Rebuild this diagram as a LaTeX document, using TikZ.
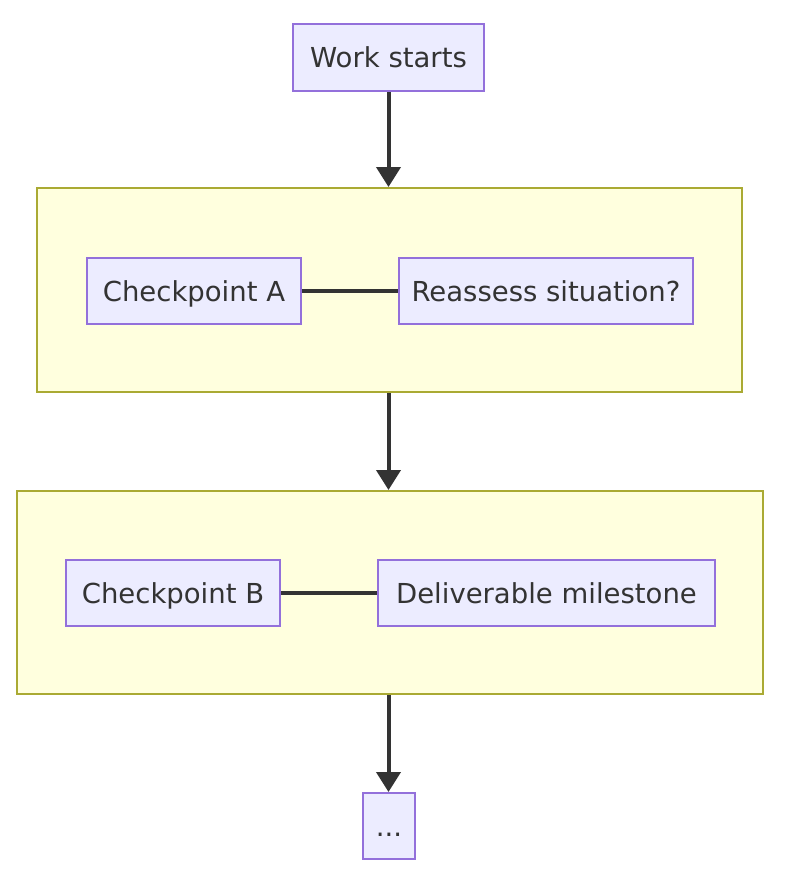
\documentclass[tikz,border=0pt]{standalone}
\usepackage{fontspec}
\setmainfont{DejaVu Sans}
\usetikzlibrary{arrows.meta}
\definecolor{nodefill}{HTML}{ECECFF}
\definecolor{nodeborder}{HTML}{9370DB}
\definecolor{sgfill}{HTML}{FFFFDE}
\definecolor{sgborder}{HTML}{AAAA33}
\definecolor{ink}{HTML}{333333}
\tikzset{
  box/.style={draw=nodeborder, fill=nodefill, line width=2pt, text=ink,
    font=\fontsize{27.5}{32}\selectfont, inner sep=0pt, minimum height=66pt,
    text height=20pt, text depth=0pt},
  sg/.style={draw=sgborder, fill=sgfill, line width=2pt, inner sep=0pt},
  flow/.style={draw=ink, line width=4pt, -{Triangle[length=20pt,width=24pt]}},
  link/.style={draw=ink, line width=4pt}
}
\begin{document}
\begin{tikzpicture}[x=1pt,y=-1pt]
\useasboundingbox[fill=white] (0,0) rectangle (794,884);
\node[sg, minimum width=705pt, minimum height=204pt] (g1) at (389.5,290) {};
\node[sg, minimum width=746pt, minimum height=203pt] (g2) at (390,592.5) {};
\node[box, minimum width=191pt, minimum height=67pt] (ws) at (388.5,57.5) {Work starts};
\node[box, minimum width=214pt] (ca) at (194,291) {Checkpoint A};
\node[box, minimum width=294pt] (ra) at (546,291) {Reassess situation?};
\node[box, minimum width=214pt] (cb) at (173,593) {Checkpoint B};
\node[box, minimum width=337pt] (dm) at (546.5,593) {Deliverable milestone};
\node[box, minimum width=52pt] (dots) at (389,826) {...};
\draw[flow] (ws.south) -- (ws.south |- g1.north);
\draw[flow] (g1.south -| ws.south) -- (ws.south |- g2.north);
\draw[flow] (g2.south -| ws.south) -- (ws.south |- dots.north);
\draw[link] (ca.east) -- (ra.west);
\draw[link] (cb.east) -- (dm.west);
\end{tikzpicture}
\end{document}
